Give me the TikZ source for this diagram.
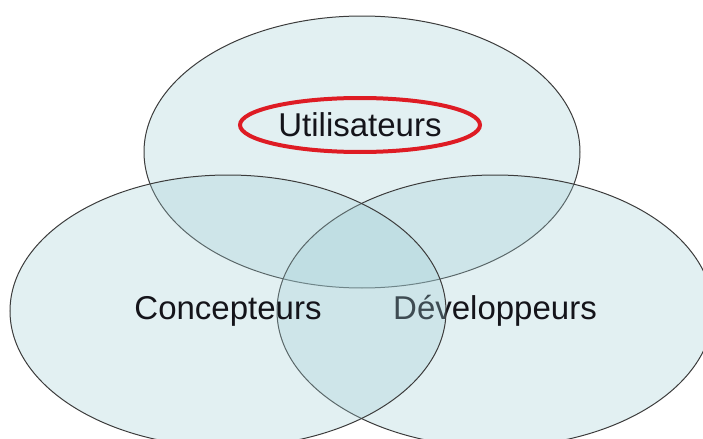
\documentclass[tikz,border=0pt]{standalone}
\usepackage{fontspec}
\setmainfont{Liberation Sans}
\usetikzlibrary{shapes.geometric}
\definecolor{setfill}{RGB}{160,205,212}
\definecolor{setline}{RGB}{60,60,60}
\definecolor{ringred}{RGB}{222,28,36}
\definecolor{labeltext}{RGB}{20,20,26}
\tikzset{set/.style={ellipse,draw=setline,line width=0.5pt,fill=setfill,fill opacity=0.3,draw opacity=1,text opacity=1,text=labeltext,minimum width=218pt,minimum height=136pt,inner sep=0pt,font=\fontsize{16.5}{20}\selectfont}}
\tikzset{ring/.style={ellipse,draw=ringred,line width=2pt,minimum width=120pt,minimum height=27pt,inner sep=0pt,text=labeltext,font=\fontsize{16.5}{20}\selectfont}}

\begin{document}
\begin{tikzpicture}[x=0.5pt,y=-0.5pt]
                    \useasboundingbox (0,0) rectangle (703,439);
                    \clip (0,0) rectangle (703,439);
                    \node[set] (users) at (362,152) {};
                    \node[set] (devs) at (495,311) {Développeurs};
                    \node[set] (designers) at (228,311) {Concepteurs};
                    \node[ring] (userlabel) at (360,125) {Utilisateurs};
                \end{tikzpicture}
\end{document}
